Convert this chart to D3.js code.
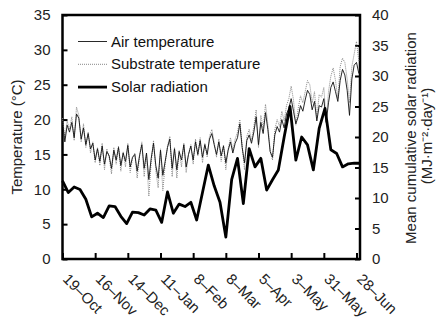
<!DOCTYPE html>
<html>
<head>
<meta charset="utf-8">
<title>Temperature and solar radiation</title>
<script src="https://d3js.org/d3.v7.min.js"></script>
<style>
    body {
        margin: 0;
        background: #fff;
        font-family: "Liberation Sans", Arial, sans-serif;
    }
    .axis text {
        font-size: 15px;
        fill: #222;
    }
    .axis line {
        stroke: #000;
        stroke-width: 2;
    }
    .frame {
        fill: none;
        stroke: #000;
        stroke-width: 2.5;
    }
    .title {
        font-size: 15px;
        fill: #222;
        text-anchor: middle;
    }
    .legend text {
        font-size: 15px;
        fill: #111;
    }
    .air {
        fill: none;
        stroke: #111;
        stroke-width: 0.9;
    }
    .substrate {
        fill: none;
        stroke: #888;
        stroke-width: 1;
        stroke-dasharray: 1,1;
    }
    .solar {
        fill: none;
        stroke: #000;
        stroke-width: 2.8;
        stroke-linejoin: round;
    }
</style>
</head>
<body>
<script>
    // DATA //
    // x axis is days since 19-Oct
    var tickDays = [0, 28, 56, 84, 112, 140, 168, 196, 224, 252];
    var tickLabels = ['19\u2013Oct', '16\u2013Nov', '14\u2013Dec', '11\u2013Jan', '8\u2013Feb',
                      '8\u2013Mar', '5\u2013Apr', '3\u2013May', '31\u2013May', '28\u2013Jun'];
    var lastDay = 255;

    var tempStep = 2;   // temperatures read every 2 days
    var airTemp = [
        19.8, 16.8, 19.2, 18.2, 19.6, 17.4, 20.8, 20.2, 17.2, 18.8, 16.4, 18.0, 15.8,
        16.6, 14.2, 15.8, 14.0, 16.2, 13.6, 15.4, 14.8, 13.0, 15.6, 14.2, 16.0, 13.4,
        15.2, 14.0, 16.3, 13.2, 14.6, 15.0, 12.6, 14.8, 16.4, 13.0, 15.2, 11.4, 14.4,
        16.6, 13.4, 11.6, 15.6, 12.0, 14.0, 16.0, 17.2, 13.0, 15.8, 12.8, 15.4, 14.2,
        16.4, 13.2, 15.0, 16.2, 14.2, 16.8, 15.0, 17.0, 14.6, 16.4, 15.0, 17.2, 18.0,
        16.4, 15.0, 16.8, 14.8, 16.2, 13.8, 15.6, 16.8, 15.2, 16.6, 17.4, 19.4, 16.0,
        13.8, 17.0, 17.8, 16.6, 18.2, 20.4, 16.4, 19.6, 18.0, 21.0, 18.6, 15.4, 14.6,
        17.8, 19.0, 18.2, 20.0, 18.8, 20.8, 21.6, 23.0, 21.2, 19.4, 20.4, 22.0, 21.2,
        22.8, 24.2, 23.6, 21.4, 22.6, 19.8, 22.0, 21.8, 23.0, 19.6, 22.4, 24.6, 25.4,
        24.0, 22.6, 25.6, 27.2, 26.4, 24.2, 20.6, 25.8, 27.8, 28.2, 26.6
    ];
    var substrateTemp = [
        20.2, 17.4, 19.8, 18.6, 20.4, 17.0, 21.8, 20.6, 16.8, 19.4, 16.0, 18.2, 15.2,
        16.8, 13.8, 16.0, 13.4, 16.6, 12.8, 15.8, 14.6, 12.2, 16.0, 13.6, 16.2, 12.6,
        15.4, 13.2, 16.6, 12.4, 14.4, 15.2, 11.6, 14.6, 16.8, 11.8, 15.0, 9.0, 13.8,
        17.0, 12.6, 10.2, 15.8, 9.8, 13.6, 16.2, 17.6, 11.8, 16.0, 11.6, 15.6, 13.2,
        16.6, 12.4, 15.0, 16.4, 13.6, 17.2, 14.8, 17.4, 13.8, 16.6, 14.6, 17.6, 18.6,
        16.8, 14.6, 17.2, 14.0, 16.4, 12.8, 15.8, 17.4, 15.6, 17.2, 18.2, 20.0, 16.2,
        12.8, 17.6, 18.6, 17.0, 19.0, 21.4, 16.0, 20.6, 18.8, 22.2, 19.4, 15.6, 14.2,
        18.6, 20.0, 19.0, 21.2, 19.8, 22.0, 23.0, 24.8, 22.8, 19.2, 21.6, 23.4, 22.4,
        24.0, 25.6, 25.0, 22.4, 24.0, 20.2, 23.6, 23.2, 24.6, 19.8, 24.0, 26.2, 27.4,
        25.6, 23.0, 27.6, 28.8, 28.2, 25.8, 22.4, 27.6, 29.4, 31.2, 28.4
    ];

    var solarStep = 5;  // 5-day means
    var solarRad = [
        12.8, 10.9, 11.8, 11.4, 9.8, 6.9, 7.5, 6.8, 8.7, 8.6, 7.0, 5.8, 7.7,
        7.6, 7.2, 8.2, 8.0, 6.0, 11.0, 7.5, 9.0, 8.6, 9.3, 6.4, 10.9, 15.4,
        12.0, 9.3, 3.6, 13.0, 16.5, 9.1, 18.1, 15.1, 16.5, 11.3, 13.0, 14.6, 20.0,
        25.0, 16.2, 20.0, 18.7, 14.6, 21.4, 24.7, 17.9, 17.3, 15.1, 15.6, 15.7, 15.7
    ];

    var legendNames = ['Air temperature', 'Substrate temperature', 'Solar radiation'];
    var legendClasses = ['air', 'substrate', 'solar'];

    // CANVAS //
    var margin = {top: 15, left: 62.5, right: 76, bottom: 63};
    var width = 436, height = 322;

    var canvas = d3.select('body').append('svg')
        .attr('width', width)
        .attr('height', height);

    var xScale = d3.scaleLinear()
        .domain([0, lastDay])
        .range([margin.left, width - margin.right]);

    var yTemp = d3.scaleLinear()
        .domain([0, 35])
        .range([height - margin.bottom, margin.top]);

    var ySolar = d3.scaleLinear()
        .domain([0, 40])
        .range([height - margin.bottom, margin.top]);

    // AXES //
    var leftAxis = canvas.append('g')
        .attr('class', 'axis')
        .attr('transform', 'translate(' + margin.left + ',0)')
        .call(d3.axisLeft(yTemp).tickValues(d3.range(0, 36, 5)).tickSizeInner(-5).tickSizeOuter(0).tickPadding(12));

    var rightAxis = canvas.append('g')
        .attr('class', 'axis')
        .attr('transform', 'translate(' + (width - margin.right) + ',0)')
        .call(d3.axisRight(ySolar).tickValues(d3.range(0, 41, 5)).tickSizeInner(-5).tickSizeOuter(0).tickPadding(12));

    var bottomAxis = canvas.append('g')
        .attr('class', 'axis')
        .attr('transform', 'translate(0,' + (height - margin.bottom) + ')')
        .call(d3.axisBottom(xScale).tickValues(tickDays).tickSizeInner(-6).tickSizeOuter(0)
            .tickFormat(function(d, i){ return tickLabels[i]; }));

    bottomAxis.selectAll('text')
        .attr('x', 0)
        .attr('y', 0)
        .attr('dy', 0)
        .attr('transform', 'translate(-1,21) rotate(45)')
        .style('text-anchor', 'start');

    canvas.selectAll('.axis .domain').remove();

    canvas.append('rect')
        .attr('class', 'frame')
        .attr('x', margin.left)
        .attr('y', margin.top)
        .attr('width', width - margin.right - margin.left)
        .attr('height', height - margin.bottom - margin.top);

    // AXIS TITLES //
    var midY = (margin.top + height - margin.bottom) / 2;

    canvas.append('text')
        .attr('class', 'title')
        .attr('transform', 'translate(22,' + midY + ') rotate(-90)')
        .text('Temperature (\u00b0C)');

    canvas.append('text')
        .attr('class', 'title')
        .attr('transform', 'translate(416,' + (midY + 1) + ') rotate(-90)')
        .text('Mean cumulative solar radiation');

    canvas.append('text')
        .attr('class', 'title')
        .attr('transform', 'translate(432,' + (midY - 1) + ') rotate(-90)')
        .text('(MJ\u00b7m\u207b\u00b2\u00b7day\u207b\u00b9)');

    // LINES //
    var airLine = d3.line()
        .x(function(d, i){ return xScale(i * tempStep); })
        .y(function(d){ return yTemp(d); });

    var solarLine = d3.line()
        .x(function(d, i){ return xScale(i * solarStep); })
        .y(function(d){ return ySolar(d); });

    canvas.append('path')
        .attr('class', 'substrate')
        .attr('d', airLine(substrateTemp));

    canvas.append('path')
        .attr('class', 'air')
        .attr('d', airLine(airTemp));

    canvas.append('path')
        .attr('class', 'solar')
        .attr('d', solarLine(solarRad));

    // LEGEND //
    var legend = canvas.append('g')
        .attr('class', 'legend');

    var rows = legend.selectAll('g')
        .data(legendNames)
        .enter()
        .append('g')
        .attr('transform', function(d, i){ return 'translate(78,' + (41.5 + i * 22.8) + ')'; });

    rows.append('line')
        .attr('class', function(d, i){ return legendClasses[i]; })
        .attr('x1', 0)
        .attr('x2', 29)
        .attr('y1', 0)
        .attr('y2', 0);

    rows.append('text')
        .attr('x', 33)
        .attr('y', 5)
        .text(function(d){ return d; });
</script>
</body>
</html>
